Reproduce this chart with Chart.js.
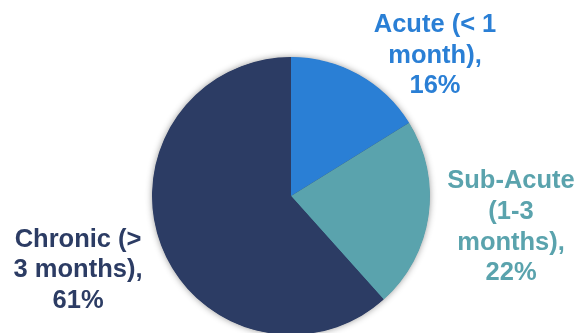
<!DOCTYPE html>
<html>
<head>
<meta charset="utf-8">
<script src="https://cdn.jsdelivr.net/npm/chart.js@4/dist/chart.umd.min.js"></script>
<style>
  html, body { margin: 0; padding: 0; background: #ffffff; overflow: hidden; width: 581px; height: 333px; }
  #wrap { position: relative; width: 581px; height: 340px; }
</style>
</head>
<body>
<div id="wrap"><canvas id="chart"></canvas></div>
<script>
// Duration of symptoms
const categories = ['Acute (< 1 month)', 'Sub-Acute (1-3 months)', 'Chronic (> 3 months)'];
const shares = [16, 22, 61];
const labelLines = [
  ['Acute (< 1', 'month),'],
  ['Sub-Acute', '(1-3', 'months),'],
  ['Chronic (>', '3 months),']
];
const colors = ['#2a7fd5', '#5aa3ad', '#2c3c64'];

// Label anchors: centre x and first baseline, in multiples of the pie radius from its centre
const anchors = [
  { dx: 1.036, dy: -1.178 },
  { dx: 1.583, dy: -0.055 },
  { dx: -1.532, dy: 0.365 }
];

const pieShadow = {
  id: 'pieShadow',
  beforeDatasetsDraw(chart) {
    const arc = chart.getDatasetMeta(0).data[0];
    if (!arc) return;
    const { x, y, outerRadius } = arc.getProps(['x', 'y', 'outerRadius'], true);
    const ctx = chart.ctx;
    ctx.save();
    ctx.shadowColor = 'rgba(0,0,0,0.45)';
    ctx.shadowBlur = 7;
    ctx.fillStyle = '#2c3c64';
    ctx.beginPath();
    ctx.arc(x, y, outerRadius - 0.5, 0, Math.PI * 2);
    ctx.fill();
    ctx.restore();
  }
};

const sliceLabels = {
  id: 'sliceLabels',
  afterDatasetsDraw(chart) {
    const meta = chart.getDatasetMeta(0);
    const ctx = chart.ctx;
    const values = chart.data.datasets[0].data;
    ctx.save();
    ctx.font = 'bold 25.5px "Liberation Sans", Arial, sans-serif';
    ctx.textAlign = 'center';
    ctx.textBaseline = 'alphabetic';
    meta.data.forEach((arc, i) => {
      const { x, y, outerRadius } = arc.getProps(['x', 'y', 'outerRadius'], true);
      const lines = labelLines[i].concat([values[i] + '%']);
      const cx = x + anchors[i].dx * outerRadius;
      const top = y + anchors[i].dy * outerRadius;
      ctx.fillStyle = colors[i];
      lines.forEach((t, k) => ctx.fillText(t, cx, top + k * 30.6));
    });
    ctx.restore();
  }
};

new Chart(document.getElementById('chart'), {
  type: 'pie',
  data: {
    labels: categories,
    datasets: [{
      data: shares,
      backgroundColor: colors,
      borderWidth: 0,
      hoverOffset: 0
    }]
  },
  options: {
    responsive: true,
    maintainAspectRatio: false,
    animation: false,
    layout: { padding: { top: 57, bottom: 5, left: 152, right: 151 } },
    plugins: {
      legend: { display: false },
      tooltip: { enabled: false }
    },
    events: []
  },
  plugins: [pieShadow, sliceLabels]
});
</script>
</body>
</html>
